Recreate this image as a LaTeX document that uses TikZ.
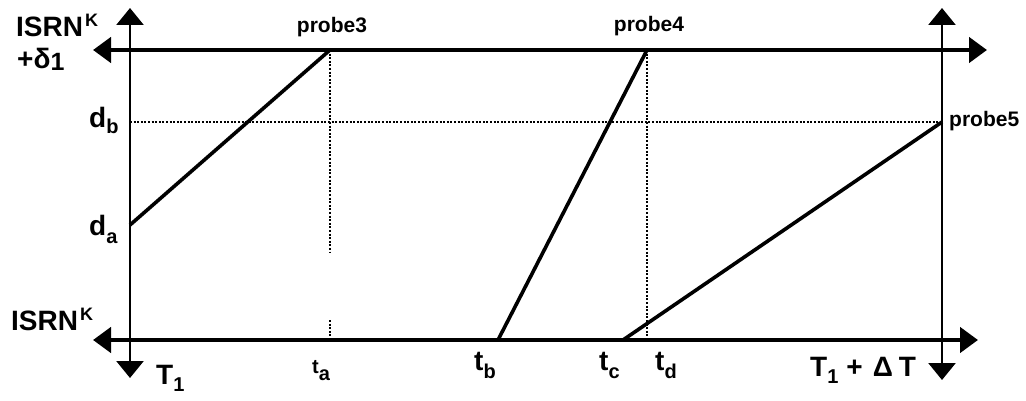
\documentclass[tikz,border=0pt]{standalone}
\usepackage{fontspec}
\setmainfont{Liberation Sans}
\usetikzlibrary{arrows.meta}
\newcommand\sml[1]{\fontsize{20}{20}\selectfont #1}
\newcommand\lowsub[2]{\raisebox{-#1}{\sml{#2}}}
\newcommand\supK{\hspace{2pt}\raisebox{10pt}{\fontsize{18}{18}\selectfont K}}
\tikzset{
  x=1pt,y=-1pt,
  lab/.style={inner sep=0pt,anchor=base west,font=\fontsize{28}{28}\selectfont\bfseries},
  probe/.style={inner sep=0pt,anchor=base,font=\fontsize{21}{21}\selectfont\bfseries},
  vaxis/.style={line width=2.6pt,{Triangle[length=17pt,width=27pt]}-{Triangle[length=17pt,width=27pt]}},
  haxis/.style={line width=4.5pt,{Triangle[length=18pt,width=25pt]}-{Triangle[length=18pt,width=25pt]}},
  trace/.style={line width=3.6pt},
  guide/.style={line width=1.6pt,dash pattern=on 2pt off 1.6pt},
}
\begin{document}
\begin{tikzpicture}
\useasboundingbox (0,0) rectangle (1026,401);
% axis end points
\coordinate (LT) at (130,8);
\coordinate (LB) at (130,378);
\coordinate (RT) at (942,8);
\coordinate (RB) at (942,380);
\coordinate (TL) at (93,50);
\coordinate (TR) at (987,50);
\coordinate (BL) at (93,340);
\coordinate (BR) at (978,340);
% event points
\coordinate (da) at (130,225);
\coordinate (db) at (130,122);
\coordinate (p3) at (330,50);
\coordinate (p4) at (647,50);
\coordinate (p5) at (942,122);
\coordinate (ta) at (330,340);
\coordinate (tagapA) at (330,253);
\coordinate (tagapB) at (330,320);
\coordinate (tb) at (498,340);
\coordinate (tc) at (623,340);
\coordinate (td) at (647,340);
% guides
\draw[guide] (db) -- (p5);
\draw[guide] (p3) -- (tagapA);
\draw[guide] (tagapB) -- (ta);
\draw[guide] (p4) -- (td);
% axes
\draw[haxis] (TL) -- (TR);
\draw[haxis] (BL) -- (BR);
\draw[vaxis] (LB) -- (LT);
\draw[vaxis] (RB) -- (RT);
% probe traces
\draw[trace] (da) -- (p3);
\draw[trace] (tb) -- (p4);
\draw[trace] (tc) -- (p5);
% labels
\node[lab] (isrn1) at (16,37) {ISRN\supK};
\node[lab] (delta) at (17,69) {+δ\lowsub{2pt}{\fontsize{25}{25}\selectfont 1}};
\node[lab] (ldb) at (89,128) {d\lowsub{6pt}{b}};
\node[lab] (lda) at (89,236) {d\lowsub{7pt}{a}};
\node[lab] (isrn0) at (11,330) {ISRN\supK};
\node[lab] (lT1) at (156,384) {T\lowsub{7pt}{1}};
\node[lab] (lta) at (312,373) {\sml{t}\lowsub{7pt}{a}};
\node[lab] (ltb) at (474,370) {t\lowsub{8pt}{b}};
\node[lab] (ltc) at (599,370) {t\lowsub{8pt}{c}};
\node[lab] (ltd) at (655,370) {t\lowsub{8pt}{d}};
\node[lab] (lTD) at (810,376) {T\lowsub{7pt}{1}\hspace{8pt}+\hspace{10pt}Δ\hspace{6pt}T};
\node[probe] (n3) at (332,33) {probe3};
\node[probe] (n4) at (649,32) {probe4};
\node[inner sep=0pt,anchor=base west,font=\fontsize{21}{21}\selectfont\bfseries] (n5) at (949,127) {probe5};
\end{tikzpicture}
\end{document}
